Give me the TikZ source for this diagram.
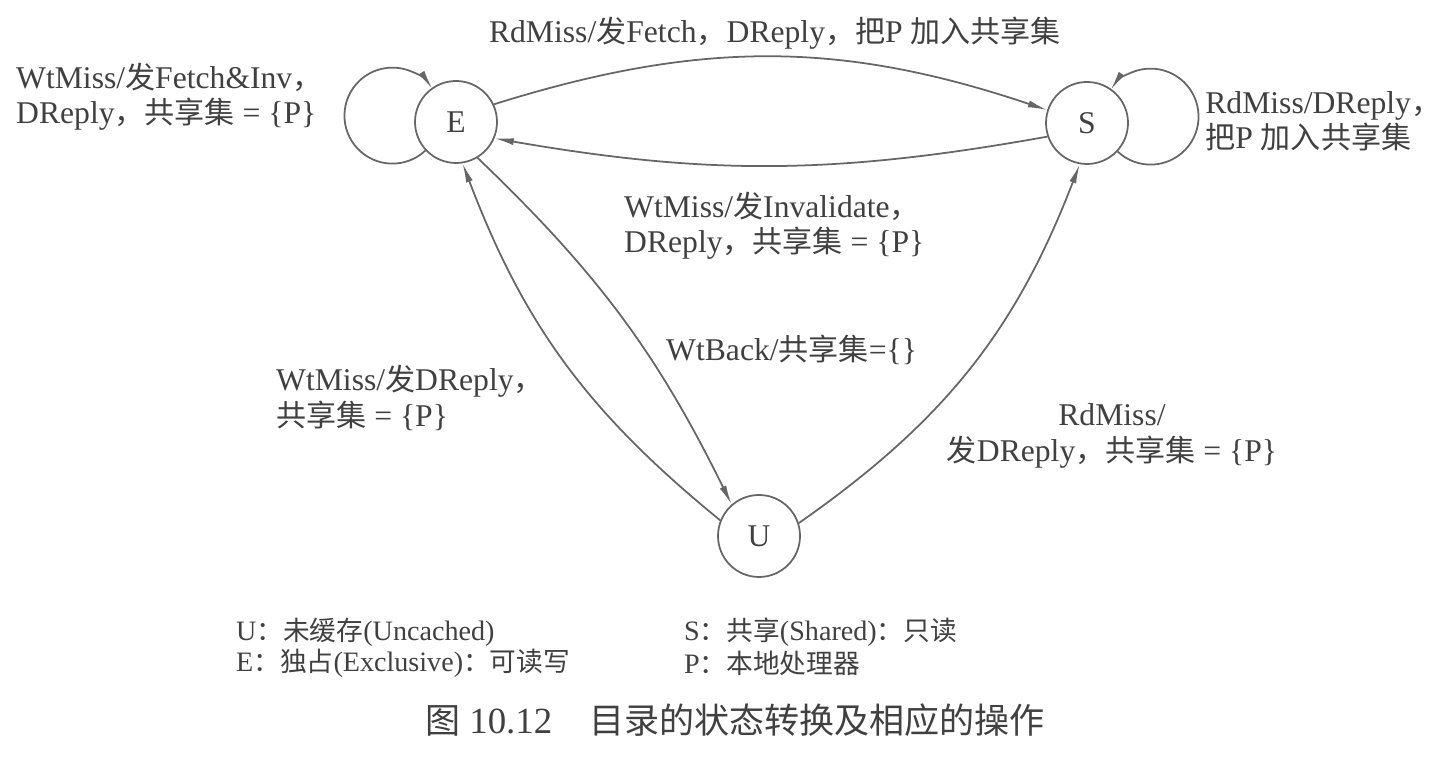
\documentclass[tikz,border=0pt]{standalone}
\usepackage{fontspec}
\setmainfont{Liberation Serif}
\newfontfamily\cjk[Scale=0.95]{Noto Sans CJK SC}
\newcommand{\zh}[1]{{\cjk #1}}
\usetikzlibrary{arrows, arrows.meta}

\tikzset{
  state/.style={draw=black!60, line width=1pt, circle, minimum size=1.64cm, inner sep=0pt, text=black!75, font=\fontsize{18}{20}\selectfont},
  arr/.style={draw=black!60, line width=1pt, -{Latex[length=11pt,width=4pt]}},
  lbl/.style={anchor=west, align=left, text=black!75, font=\fontsize{18}{20}\selectfont},
  key/.style={anchor=west, text=black!75, font=\fontsize{16}{18}\selectfont},
}

\begin{document}
\begin{tikzpicture}
%\draw[step=1cm,gray,very thin] (0,0) grid (28.84,15.16); %background grid
\useasboundingbox (0,0) rectangle (28.84,15.16);

\node[state] (E) at (9.12,12.72)  {E};
\node[state] (S) at (21.74,12.70) {S};
\node[state] (U) at (15.18,4.44)  {U};

\draw[arr] (E.223) arc[start angle=-46.7, end angle=-326, radius=0.96cm];
\draw[arr] (S.317) arc[start angle=226.7, end angle=506, radius=0.96cm];

\draw[arr] (E.25)  to[bend left=18]  (S.162);
\draw[arr] (S.199) to[bend left=10]  (E.337);
\draw[arr] (U.158) to[bend left=15]  (E.279);
\draw[arr] (E.301) to[bend left=10]  (U.131);
\draw[arr] (U.18)  to[bend right=17] (S.260);

\node[lbl, anchor=center] (lES) at (15.5,14.5) {RdMiss/\zh{发}Fetch\zh{，}DReply\zh{，把}P \zh{加入共享集}};
\node[lbl] (lEE) at (0.2,13.22)   {WtMiss/\zh{发}Fetch\&Inv\zh{，}\\DReply\zh{，共享集} = \{P\}};
\node[lbl, inner xsep=0pt] (lSS) at (24.1,12.74) {RdMiss/DReply\zh{，}\\\zh{把}P \zh{加入共享集}};
\node[lbl] (lSE) at (12.36,10.64) {WtMiss/\zh{发}Invalidate\zh{，}\\DReply\zh{，共享集} = \{P\}};
\node[lbl] (lEU) at (13.2,8.16)   {WtBack/\zh{共享集}=\{\}};
\node[lbl] (lUE) at (5.4,7.2)     {WtMiss/\zh{发}DReply\zh{，}\\\zh{共享集} = \{P\}};
\node[lbl, align=center, anchor=center] (lUS) at (22.24,6.44) {RdMiss/\\\zh{发}DReply\zh{，共享集} = \{P\}};

\node[key] (kU) at (4.6,2.52)  {U\zh{：未缓存}(Uncached)};
\node[key] (kE) at (4.6,1.9)   {E\zh{：独占}(Exclusive)\zh{：可读写}};
\node[key] (kS) at (13.56,2.52) {S\zh{：共享}(Shared)\zh{：只读}};
\node[key] (kP) at (13.56,1.9)  {P\zh{：本地处理器}};

\node[text=black!75, font=\fontsize{21}{24}\selectfont] (cap) at (14.7,0.76) {\zh{图} 10.12\quad \zh{目录的状态转换及相应的操作}};

\end{tikzpicture}
\end{document}
